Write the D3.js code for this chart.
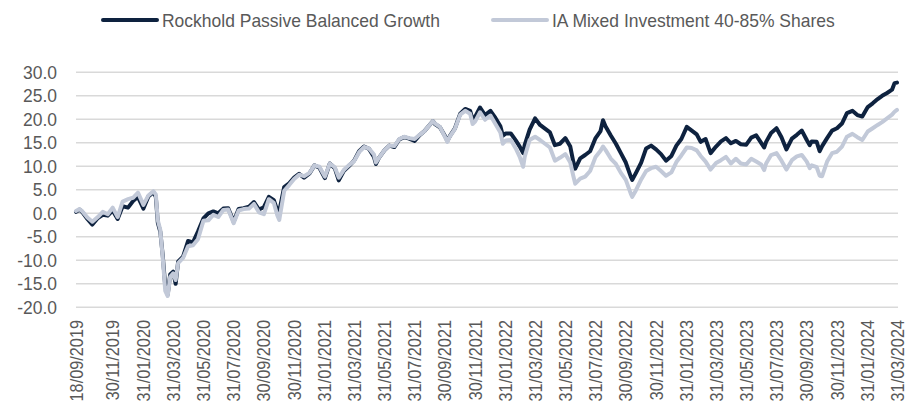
<!DOCTYPE html>
<html><head><meta charset="utf-8">
<script src="https://cdn.jsdelivr.net/npm/d3@7"></script>
<style>body{margin:0;background:#fff} svg{display:block}</style>
</head><body>
<svg id="c" width="915" height="408"></svg>
<script>
const seriesNames = ["Rockhold Passive Balanced Growth", "IA Mixed Investment 40-85% Shares"];
const dates = [
"2019-09-18","2019-09-25","2019-10-01","2019-10-11","2019-10-21","2019-11-01","2019-11-11","2019-11-21","2019-12-01","2019-12-11","2019-12-21",
"2020-01-01","2020-01-11","2020-01-21","2020-02-01","2020-02-11","2020-02-21","2020-02-26","2020-03-01","2020-03-06","2020-03-11","2020-03-16","2020-03-21","2020-03-26",
"2020-04-01","2020-04-06","2020-04-11","2020-04-21","2020-05-01","2020-05-11","2020-05-21","2020-06-01","2020-06-11","2020-06-21","2020-07-01","2020-07-11","2020-07-21",
"2020-08-01","2020-08-11","2020-08-21","2020-09-01","2020-09-11","2020-09-21","2020-10-01","2020-10-11","2020-10-21","2020-10-28","2020-11-01","2020-11-11","2020-11-21",
"2020-12-01","2020-12-11","2020-12-21","2021-01-01","2021-01-11","2021-01-21","2021-02-01","2021-02-11","2021-02-21","2021-03-01","2021-03-11","2021-03-21",
"2021-04-01","2021-04-11","2021-04-21","2021-05-01","2021-05-11","2021-05-15","2021-05-21","2021-06-01","2021-06-11","2021-06-21","2021-07-01","2021-07-11","2021-07-21",
"2021-08-01","2021-08-11","2021-08-21","2021-09-01","2021-09-07","2021-09-11","2021-09-21","2021-10-01","2021-10-06","2021-10-11","2021-10-21",
"2021-11-01","2021-11-11","2021-11-21","2021-11-26","2021-12-01","2021-12-11","2021-12-21","2022-01-01","2022-01-11","2022-01-21","2022-01-26",
"2022-02-01","2022-02-11","2022-02-21","2022-03-01","2022-03-08","2022-03-11","2022-03-21","2022-04-01","2022-04-11","2022-04-21","2022-05-01","2022-05-11","2022-05-21",
"2022-06-01","2022-06-11","2022-06-17","2022-06-21","2022-07-01","2022-07-11","2022-07-21","2022-08-01","2022-08-11","2022-08-16","2022-08-21",
"2022-09-01","2022-09-11","2022-09-21","2022-10-01","2022-10-11","2022-10-14","2022-10-21","2022-11-01","2022-11-11","2022-11-21","2022-12-01","2022-12-11","2022-12-21",
"2023-01-01","2023-01-11","2023-01-21","2023-02-01","2023-02-11","2023-02-21","2023-03-01","2023-03-11","2023-03-21","2023-04-01","2023-04-11","2023-04-21",
"2023-05-01","2023-05-11","2023-05-21","2023-06-01","2023-06-11","2023-06-21","2023-07-01","2023-07-07","2023-07-11","2023-07-21","2023-08-01","2023-08-11","2023-08-21",
"2023-09-01","2023-09-11","2023-09-21","2023-10-01","2023-10-07","2023-10-11","2023-10-21","2023-10-27","2023-11-01","2023-11-11","2023-11-21",
"2023-12-01","2023-12-11","2023-12-21","2024-01-01","2024-01-11","2024-01-21","2024-02-01","2024-02-11","2024-02-21","2024-03-01","2024-03-11","2024-03-21","2024-03-26","2024-03-31"
];
const rockhold = [
0.3,0.8,0.2,-1.2,-2.4,-1.0,-0.3,-0.5,0.6,-1.2,1.5,
1.2,2.6,3.5,1.0,3.6,4.5,3.5,-2.0,-3.9,-9.0,-15.5,-17.3,-13.0,
-12.4,-15.0,-10.3,-9.2,-5.9,-6.2,-3.9,-1.1,0.0,0.4,0.0,1.0,1.1,
-1.8,0.9,1.1,1.4,2.4,0.8,1.3,3.5,2.8,0.6,0.4,5.6,6.4,
7.6,8.4,7.6,8.5,10.2,9.7,7.5,10.6,9.6,7.0,9.0,10.0,
11.2,13.2,14.2,13.7,12.0,10.5,11.8,13.4,14.4,14.1,15.7,16.2,15.9,
15.4,16.6,17.5,18.9,19.6,19.0,18.3,16.5,15.4,16.4,18.0,
21.2,22.2,21.8,20.0,20.5,22.5,20.9,21.8,20.3,18.5,16.5,
17.0,17.0,15.5,14.2,12.8,14.5,17.8,20.2,18.8,18.0,17.2,14.5,14.8,
16.0,14.2,11.0,9.5,11.7,12.4,13.2,16.0,17.5,19.8,18.5,
16.5,14.8,12.8,10.8,7.8,7.1,8.5,10.8,13.8,14.4,13.6,12.6,11.2,
12.2,14.4,15.8,18.4,17.6,16.8,15.2,15.8,12.8,14.2,15.3,16.0,
14.9,15.4,14.7,14.6,16.1,16.6,15.0,14.0,15.2,17.1,18.1,16.2,13.6,
15.9,16.7,17.6,15.6,14.5,15.3,15.2,13.2,14.3,16.0,17.6,
18.1,19.1,21.3,21.8,20.9,20.6,22.6,23.4,24.3,25.0,25.6,26.3,27.7,27.8
];
const ia = [
0.5,0.9,0.4,-0.9,-1.8,-0.8,0.3,-0.2,1.2,-0.8,2.5,
3.0,3.3,4.4,1.8,3.8,4.7,4.0,-1.5,-3.5,-9.5,-16.5,-17.6,-13.5,
-12.8,-14.2,-10.6,-9.5,-7.0,-6.8,-5.5,-1.6,-1.5,-0.3,-0.8,0.7,0.8,
-2.1,0.6,0.9,1.0,2.0,0.2,-0.2,3.0,2.2,-0.4,-1.4,4.8,6.0,
7.3,8.2,7.9,8.6,10.2,9.9,7.8,10.6,9.8,7.6,9.2,10.2,
11.1,13.0,14.1,13.8,12.5,10.8,11.8,13.4,14.4,14.3,15.8,16.3,16.0,
15.8,16.7,17.5,18.9,19.6,19.1,18.4,16.3,15.2,16.3,17.9,
21.0,21.8,21.2,19.0,19.5,21.5,19.9,20.8,19.0,17.2,14.8,
15.5,15.6,13.8,12.0,9.9,12.0,15.6,16.3,15.6,14.8,14.0,11.2,11.8,
12.6,10.8,8.0,6.3,7.4,7.8,9.0,12.0,13.3,14.2,13.5,
11.6,10.5,8.6,7.1,4.2,3.5,4.8,7.2,9.0,9.6,9.9,9.0,8.0,
8.7,10.9,12.3,14.0,13.9,13.4,12.2,11.0,9.3,10.7,11.3,12.0,
10.6,11.6,10.6,10.4,11.6,11.0,10.4,9.2,10.6,12.4,12.8,11.2,9.3,
11.3,12.1,12.4,11.0,9.6,10.2,9.8,8.0,7.9,11.0,12.8,
13.1,14.2,16.3,16.9,16.2,15.6,17.4,18.1,18.8,19.4,20.2,21.0,21.6,22.0
];
const yTicks = [30,25,20,15,10,5,0,-5,-10,-15,-20];
const xTickLabels = ["18/09/2019","30/11/2019","31/01/2020","31/03/2020","31/05/2020","31/07/2020","30/09/2020","30/11/2020",
"31/01/2021","31/03/2021","31/05/2021","31/07/2021","30/09/2021","30/11/2021","31/01/2022","31/03/2022","31/05/2022","31/07/2022",
"30/09/2022","30/11/2022","31/01/2023","31/03/2023","31/05/2023","31/07/2023","30/09/2023","30/11/2023","31/01/2024","31/03/2024"];
const colors = ["#0e223f", "#c2c9d8"];

const parseISO = d3.timeParse("%Y-%m-%d");
const parseLbl = d3.timeParse("%d/%m/%Y");
const fmtLbl = d3.timeFormat("%d/%m/%Y");
const dt = dates.map(parseISO);

const svg = d3.select("#c");
const FONT = "'Liberation Sans', Arial, Helvetica, sans-serif";
const TXT = "#595959";
const L = 76, R = 897, T = 72.3, B = 307.3;

const x = d3.scaleTime().domain([dt[0], dt[dt.length-1]]).range([L, R]);
const y = d3.scaleLinear().domain([-20, 30]).range([B, T]);

function condense(sel, f) {
  sel.each(function() {
    const w = this.getComputedTextLength();
    d3.select(this).attr("textLength", w * f).attr("lengthAdjust", "spacingAndGlyphs");
  });
}

// gridlines
svg.append("g").selectAll("line").data(yTicks).join("line")
  .attr("x1", L).attr("x2", R + 1)
  .attr("y1", d => y(d)).attr("y2", d => y(d))
  .attr("stroke", "#d9d9d9").attr("stroke-width", 1.5);

// y axis
const ya = svg.append("g").attr("transform", `translate(${L},0)`)
  .call(d3.axisLeft(y).tickValues(yTicks).tickSize(0).tickPadding(19).tickFormat(d => d.toFixed(1)));
ya.select(".domain").remove();
ya.selectAll("text").attr("font-family", FONT).attr("font-size", 19).attr("fill", TXT);
condense(ya.selectAll("text"), 0.92);

// x axis
const xa = svg.append("g").attr("transform", `translate(0,${B})`)
  .call(d3.axisBottom(x).tickValues(xTickLabels.map(parseLbl)).tickSize(0).tickFormat(fmtLbl));
xa.select(".domain").remove();
xa.selectAll("text")
  .attr("font-family", FONT).attr("font-size", 18.5).attr("fill", TXT)
  .attr("text-anchor", "end").attr("transform", "rotate(-90)")
  .attr("x", -12.7).attr("y", 0).attr("dy", "0.35em");
condense(xa.selectAll("text"), 0.88);

// lines
const line = d3.line().x((d, i) => x(dt[i])).y(d => y(d));
[rockhold, ia].forEach((s, k) => {
  svg.append("path").datum(s).attr("d", line)
    .attr("fill", "none").attr("stroke", colors[k]).attr("stroke-width", 4)
    .attr("stroke-linejoin", "round").attr("stroke-linecap", "round");
});

// legend
const legX = [103, 493];
seriesNames.forEach((n, k) => {
  const g = svg.append("g").attr("transform", `translate(${legX[k]},20)`);
  g.append("line").attr("x1", 0).attr("x2", 54).attr("y1", 0).attr("y2", 0)
    .attr("stroke", colors[k]).attr("stroke-width", 4).attr("stroke-linecap", "round");
  const t = g.append("text").attr("x", 59).attr("y", 0).attr("dy", "0.35em")
    .attr("font-family", FONT).attr("font-size", 19).attr("fill", TXT).text(n);
  condense(t, 0.92);
});
</script>
</body></html>
